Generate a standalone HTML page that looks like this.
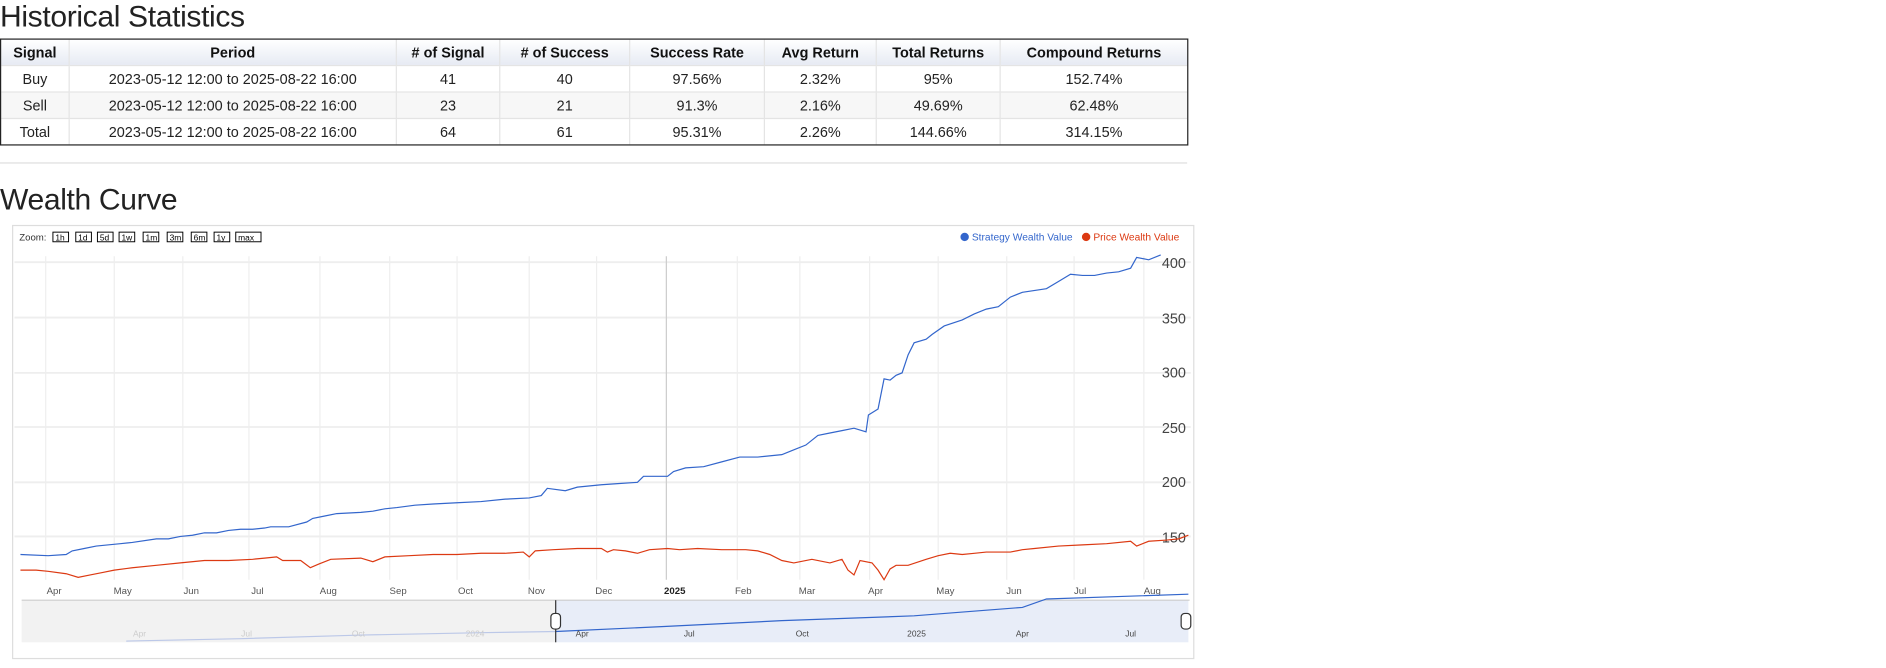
<!DOCTYPE html>
<html><head><meta charset="utf-8"><style>
html,body{margin:0;padding:0;background:#fff;overflow:hidden;width:1886px;height:668px}
#w{position:absolute;left:0;top:0;width:1568px;height:555px;transform:scale(1.2028);transform-origin:0 0;font-family:"Liberation Sans",sans-serif;color:#222}
h2{position:absolute;margin:0;font-weight:normal;font-size:25px;letter-spacing:-0.3px;color:#222;font-family:"Liberation Sans",sans-serif}
table{position:absolute;left:1px;top:33px;width:986px;border-collapse:collapse;outline:1px solid #222;font-size:12px}
td,th{height:21px;padding:0;text-align:center;border-right:1px solid #e4e4e4;border-bottom:1px solid #e4e4e4}
td:last-child,th:last-child{border-right:none}
tr:last-child td{border-bottom:none}
th{background:linear-gradient(#fff,#e6eaf3);font-weight:bold;color:#111}
tr.g td{background:#f7f7f7}
</style></head><body><div id="w">
<h2 style="left:0;top:0px">Historical Statistics</h2>
<table>
<tr><th style="width:56px">Signal</th><th style="width:271px">Period</th><th style="width:85px"># of Signal</th><th style="width:107px"># of Success</th><th style="width:111px">Success Rate</th><th style="width:92px">Avg Return</th><th style="width:102px">Total Returns</th><th>Compound Returns</th></tr>
<tr><td>Buy</td><td>2023-05-12 12:00 to 2025-08-22 16:00</td><td>41</td><td>40</td><td>97.56%</td><td>2.32%</td><td>95%</td><td>152.74%</td></tr>
<tr class="g"><td>Sell</td><td>2023-05-12 12:00 to 2025-08-22 16:00</td><td>23</td><td>21</td><td>91.3%</td><td>2.16%</td><td>49.69%</td><td>62.48%</td></tr>
<tr><td>Total</td><td>2023-05-12 12:00 to 2025-08-22 16:00</td><td>64</td><td>61</td><td>95.31%</td><td>2.26%</td><td>144.66%</td><td>314.15%</td></tr>
</table>
<div style="position:absolute;left:0;top:135px;width:987px;height:1px;background:#ddd"></div>
<h2 style="left:0;top:152px">Wealth Curve</h2>
<svg style="position:absolute;left:0;top:0" width="1568" height="555" font-family="Liberation Sans,sans-serif">
<rect x="10.5" y="187.5" width="982" height="360" fill="#fff" stroke="#ddd"/>
<text x="16" y="200" font-size="8" fill="#333">Zoom:</text>
<g font-size="7" fill="#000" stroke="#000" stroke-width="0.8">
<rect x="44" y="193" width="13" height="8" fill="#fff"/><rect x="63" y="193" width="13" height="8" fill="#fff"/><rect x="81" y="193" width="13" height="8" fill="#fff"/><rect x="99" y="193" width="13" height="8" fill="#fff"/><rect x="119" y="193" width="13" height="8" fill="#fff"/><rect x="139" y="193" width="13" height="8" fill="#fff"/><rect x="159" y="193" width="13" height="8" fill="#fff"/><rect x="178" y="193" width="13" height="8" fill="#fff"/><rect x="196" y="193" width="21" height="8" fill="#fff"/>
</g>
<g font-size="7" fill="#000"><text x="46" y="200">1h</text><text x="65" y="200">1d</text><text x="83" y="200">5d</text><text x="101" y="200">1w</text><text x="121" y="200">1m</text><text x="141" y="200">3m</text><text x="161" y="200">6m</text><text x="180" y="200">1y</text><text x="198" y="200">max</text></g>
<circle cx="802" cy="197" r="3.5" fill="#3366cc"/><text x="808" y="200" font-size="8.5" fill="#3366cc">Strategy Wealth Value</text>
<circle cx="903" cy="197" r="3.5" fill="#dc3912"/><text x="909" y="200" font-size="8.5" fill="#dc3912">Price Wealth Value</text>
<g stroke="#eeeeee" stroke-width="1">
<line x1="38" y1="213" x2="38" y2="482"/><line x1="95" y1="213" x2="95" y2="482"/><line x1="152" y1="213" x2="152" y2="482"/><line x1="207" y1="213" x2="207" y2="482"/><line x1="266" y1="213" x2="266" y2="482"/><line x1="324" y1="213" x2="324" y2="482"/><line x1="380" y1="213" x2="380" y2="482"/><line x1="440" y1="213" x2="440" y2="482"/><line x1="496" y1="213" x2="496" y2="482"/><line x1="613" y1="213" x2="613" y2="482"/><line x1="665" y1="213" x2="665" y2="482"/><line x1="723" y1="213" x2="723" y2="482"/><line x1="780" y1="213" x2="780" y2="482"/><line x1="837" y1="213" x2="837" y2="482"/><line x1="893" y1="213" x2="893" y2="482"/><line x1="951" y1="213" x2="951" y2="482"/>
<line x1="12" y1="218" x2="990" y2="218" stroke-width="1.5"/><line x1="12" y1="264" x2="990" y2="264" stroke-width="1.5"/><line x1="12" y1="310" x2="990" y2="310" stroke-width="1.5"/><line x1="12" y1="355" x2="990" y2="355" stroke-width="1.5"/><line x1="12" y1="401" x2="990" y2="401" stroke-width="1.5"/><line x1="12" y1="446" x2="990" y2="446" stroke-width="1.5"/>
</g>
<line x1="554" y1="213" x2="554" y2="482" stroke="#ccc"/>
<g font-size="12" fill="#444" text-anchor="end"><text x="986" y="223">400</text><text x="986" y="269">350</text><text x="986" y="314">300</text><text x="986" y="360">250</text><text x="986" y="405">200</text><text x="986" y="451">150</text></g>
<g font-size="8" fill="#555" text-anchor="middle"><text x="45" y="494">Apr</text><text x="102" y="494">May</text><text x="159" y="494">Jun</text><text x="214" y="494">Jul</text><text x="273" y="494">Aug</text><text x="331" y="494">Sep</text><text x="387" y="494">Oct</text><text x="446" y="494">Nov</text><text x="502" y="494">Dec</text><text x="561" y="494" fill="#222" font-weight="bold">2025</text><text x="618" y="494">Feb</text><text x="671" y="494">Mar</text><text x="728" y="494">Apr</text><text x="786" y="494">May</text><text x="843" y="494">Jun</text><text x="898" y="494">Jul</text><text x="958" y="494">Aug</text></g>
<polyline fill="none" stroke="#3366cc" stroke-width="1" points="17,461 40,462 55,461 60,458 70,456 80,454 100,452 110,451 130,448 140,448 150,446 160,445 170,443 180,443 190,441 200,440 210,440 220,439 225,438 240,438 255,434 260,431 270,429 280,427 300,426 310,425 320,423 330,422 345,420 360,419 380,418 400,417 420,415 440,414 450,412 455,406 470,408 480,405 500,403 515,402 530,401 535,396 555,396 560,392 570,389 585,388 600,384 615,380 630,380 650,378 660,374 670,370 680,362 690,360 700,358 710,356 720,359 722,345 730,340 735,315 740,316 745,312 750,310 755,295 760,285 770,282 775,278 785,271 800,266 810,261 820,257 830,255 840,247 850,243 870,240 880,234 890,228 900,229 910,229 920,227 930,226 940,223 945,214 955,216 965,212"/>
<polyline fill="none" stroke="#dc3912" stroke-width="1" points="17,474 30,474 40,475 55,477 65,480 75,478 85,476 95,474 110,472 130,470 150,468 170,466 190,466 210,465 220,464 230,463 235,466 250,466 258,472 265,469 275,465 300,464 310,467 320,463 340,462 360,461 380,461 400,460 420,460 435,459 440,463 445,458 460,457 480,456 500,456 505,459 510,457 520,458 530,460 540,457 555,456 565,457 580,456 600,457 620,457 630,458 640,461 650,466 660,468 675,465 690,468 700,465 705,474 710,478 715,466 725,468 730,474 735,482 740,473 745,470 755,470 770,465 780,462 790,460 800,461 810,460 820,459 840,459 850,457 860,456 880,454 900,453 920,452 940,450 945,454 955,450 970,449 980,448 988,445"/>
<rect x="18" y="499" width="444" height="35" fill="#f2f2f2"/>
<rect x="462" y="499" width="526" height="35" fill="#e8edf8"/>
<line x1="18" y1="499" x2="989" y2="499" stroke="#ccc"/>
<polyline fill="none" stroke="#bcc8e8" points="105,533 200,531 300,528 400,526 462,525"/>
<polyline fill="none" stroke="#3366cc" points="462,525 550,521 650,516 760,512 850,505 870,498 988,494"/>
<g font-size="7" fill="#ccc" text-anchor="middle"><text x="116" y="529">Apr</text><text x="205" y="529">Jul</text><text x="298" y="529">Oct</text><text x="395" y="529">2024</text></g>
<g font-size="7" fill="#444" text-anchor="middle"><text x="484" y="529">Apr</text><text x="573" y="529">Jul</text><text x="667" y="529">Oct</text><text x="762" y="529">2025</text><text x="850" y="529">Apr</text><text x="940" y="529">Jul</text></g>
<line x1="462" y1="499" x2="462" y2="534" stroke="#333"/>
<rect x="458" y="510" width="8" height="13" rx="3" fill="#fff" stroke="#333"/>
<rect x="982" y="510" width="8" height="13" rx="3" fill="#fff" stroke="#333"/>
</svg>
</div></body></html>
